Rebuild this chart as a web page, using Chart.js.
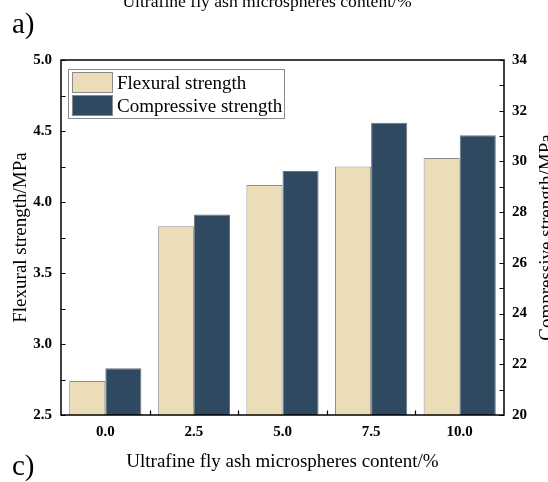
<!DOCTYPE html>
<html>
<head>
<meta charset="utf-8">
<script src="https://cdn.jsdelivr.net/npm/chart.js@4"></script>
<style>
  html, body { margin: 0; padding: 0; background: #ffffff; }
  #wrap { position: relative; width: 548px; height: 482px; overflow: hidden; }
  canvas { display: block; }
</style>
</head>
<body>
<div id="wrap"><canvas id="c" width="548" height="482"></canvas></div>
<script>
// ---- data ----
const categories = ['0.0', '2.5', '5.0', '7.5', '10.0'];
const flexural = [2.74, 3.83, 4.12, 4.25, 4.31];
const compressive = [21.84, 27.91, 29.62, 31.53, 31.03];
const seriesNames = ['Flexural strength', 'Compressive strength'];
const xTitle = 'Ultrafine fly ash microspheres content/%';
const leftTitle = 'Flexural strength/MPa';
const rightTitle = 'Compressive strength/MPa';
const leftMin = 2.5, leftMax = 5.0, leftStep = 0.5;
const rightMin = 20, rightMax = 34, rightStep = 2;
const panelLabels = ['a)', 'c)'];

const FLEX = '#EBDDB8';
const COMP = '#2E4960';
const SERIF = '"Liberation Serif", "Times New Roman", serif';

const decorPlugin = {
  id: 'decor',
  afterDraw(chart) {
    const ctx = chart.ctx;
    const a = chart.chartArea;
    const y = chart.scales.y, y1 = chart.scales.y1, x = chart.scales.x;
    ctx.save();
    // inward ticks
    ctx.strokeStyle = '#000';
    ctx.lineWidth = 1.2;
    ctx.beginPath();
    for (let v = leftMin; v <= leftMax + 1e-9; v += leftStep / 2) {
      const py = Math.round(y.getPixelForValue(v)) + 0.5;
      ctx.moveTo(a.left, py); ctx.lineTo(a.left + 4.5, py);
    }
    for (let v = rightMin; v <= rightMax + 1e-9; v += rightStep / 2) {
      const py = Math.round(y1.getPixelForValue(v)) + 0.5;
      ctx.moveTo(a.right, py); ctx.lineTo(a.right - 4.5, py);
    }
    for (let i = 0; i < categories.length - 1; i++) {
      const px = Math.round((x.getPixelForValue(i) + x.getPixelForValue(i + 1)) / 2) + 0.5;
      ctx.moveTo(px, a.bottom); ctx.lineTo(px, a.bottom - 4.5);
    }
    ctx.stroke();
    // frame
    ctx.lineWidth = 1.5;
    ctx.strokeRect(a.left, a.top, a.right - a.left, a.bottom - a.top);

    // legend
    const lx = 68.5, ly = 69.5, lw = 216, lh = 49;
    ctx.lineWidth = 1;
    ctx.strokeStyle = '#8a8a8a';
    ctx.strokeRect(lx, ly, lw, lh);
    const sw = [[72.5, 72.5, FLEX], [72.5, 95.5, COMP]];
    ctx.font = '19px ' + SERIF;
    ctx.textBaseline = 'alphabetic';
    ctx.textAlign = 'left';
    sw.forEach((s, i) => {
      ctx.fillStyle = s[2];
      ctx.fillRect(s[0], s[1], 40, 20);
      ctx.strokeStyle = '#8a8a8a';
      ctx.strokeRect(s[0], s[1], 40, 20);
      ctx.fillStyle = '#000';
      ctx.fillText(seriesNames[i], 117, s[1] + 16.5);
    });

    // axis titles
    ctx.fillStyle = '#000';
    ctx.font = '19px ' + SERIF;
    ctx.textAlign = 'center';
    ctx.textBaseline = 'alphabetic';
    ctx.fillText(xTitle, (a.left + a.right) / 2, 466.5);
    ctx.save();
    ctx.translate(26, (a.top + a.bottom) / 2);
    ctx.rotate(-Math.PI / 2);
    ctx.fillText(leftTitle, 0, 0);
    ctx.restore();
    ctx.save();
    ctx.translate(551.5, (a.top + a.bottom) / 2);
    ctx.rotate(-Math.PI / 2);
    ctx.fillText(rightTitle, 0, 0);
    ctx.restore();

    // cropped neighbouring panel texts
    ctx.font = '17.6px ' + SERIF;
    ctx.fillText(xTitle, 267, 7);
    ctx.font = '29px ' + SERIF;
    ctx.textAlign = 'left';
    ctx.fillText(panelLabels[0], 12, 33);
    ctx.fillText(panelLabels[1], 12, 475);
    ctx.restore();
  }
};

new Chart(document.getElementById('c'), {
  type: 'bar',
  data: {
    labels: categories,
    datasets: [
      { label: seriesNames[0], data: flexural, yAxisID: 'y', backgroundColor: FLEX,
        borderColor: '#8c8c8c', borderWidth: 1 },
      { label: seriesNames[1], data: compressive, yAxisID: 'y1', backgroundColor: COMP,
        borderColor: '#6f747a', borderWidth: 1 }
    ]
  },
  options: {
    responsive: false,
    animation: false,
    devicePixelRatio: 1,
    categoryPercentage: 0.815,
    barPercentage: 1.0,
    layout: { padding: { top: 60, left: 0, right: 0, bottom: 0 } },
    plugins: { legend: { display: false }, tooltip: { enabled: false } },
    scales: {
      x: {
        offset: true,
        grid: { display: false, drawTicks: false },
        border: { display: false },
        ticks: { color: '#000', font: { family: SERIF, size: 15, weight: 'bold' }, padding: 8, maxRotation: 0 },
        afterFit: s => { s.height = 67; }
      },
      y: {
        position: 'left', min: leftMin, max: leftMax,
        grid: { display: false, drawTicks: false },
        border: { display: false },
        ticks: { stepSize: leftStep, color: '#000', padding: 9,
                 font: { family: SERIF, size: 15, weight: 'bold' },
                 callback: v => Number(v).toFixed(1) },
        afterFit: s => { s.width = 61; }
      },
      y1: {
        position: 'right', min: rightMin, max: rightMax,
        grid: { display: false, drawTicks: false },
        border: { display: false },
        ticks: { stepSize: rightStep, color: '#000', padding: 8,
                 font: { family: SERIF, size: 15, weight: 'bold' } },
        afterFit: s => { s.width = 44; }
      }
    }
  },
  plugins: [decorPlugin]
});
</script>
</body>
</html>
